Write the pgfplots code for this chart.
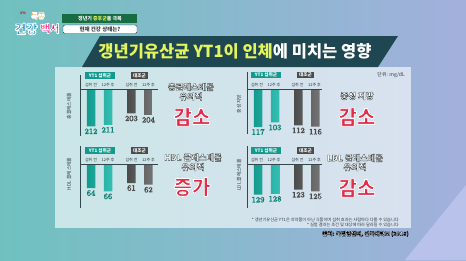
\documentclass[border=0pt]{standalone}
\usepackage{pgfplots}
\pgfplotsset{compat=1.18}
\usepackage{fontspec}
\setmainfont{Noto Sans CJK KR}
\definecolor{bgteal}{HTML}{6FC1BF}
\definecolor{bglav}{HTML}{A3B0DC}
\definecolor{bglight}{HTML}{B8C2EA}
\definecolor{banner}{HTML}{1E4752}
\definecolor{ttlyel}{HTML}{E4F45C}
\definecolor{tealA}{HTML}{139A8E}
\definecolor{tealB}{HTML}{35BFB2}
\definecolor{tealL}{HTML}{DFFBFF}
\definecolor{grayA}{HTML}{4C4C4C}
\definecolor{grayB}{HTML}{747474}
\definecolor{redt}{HTML}{E22C48}
\definecolor{axln}{HTML}{34474C}
\definecolor{txtd}{HTML}{333B3E}
% outlined text: #1 fill colour, #2 stroke rgb, #3 stroke width, #4 text
\newcommand\strk[4]{\textcolor{#1}{\special{pdf:literal direct 1 j #3 w #2 RG 2 Tr}#4\special{pdf:literal direct 0 Tr}}}
\newcommand\outl[1]{\strk{white}{0.2 0.23 0.24}{0.32}{#1}}
\newcommand\redt[1]{\strk{redt}{1 1 1}{0.8}{#1}}
\pgfplotsset{
  minibar/.style={width=80pt, height=46pt, scale only axis, hide axis,
    y dir=reverse, xmin=-0.65, xmax=4.06, enlargelimits=false, clip=true,
    anchor=north west,
    every node near coord/.append style={anchor=center, yshift=-5pt,
      font=\fontsize{8.5}{8.5}\selectfont\bfseries}},
  tealbar/.style={ybar, bar width=8.5pt, bar shift=0pt, draw=none,
    left color=tealA, right color=tealB,
    nodes near coords={\strk{tealL}{0.06 0.5 0.47}{0.45}{\pgfmathprintnumber{\pgfplotspointmeta}}}},
  graybar/.style={ybar, bar width=8.5pt, bar shift=0pt, draw=none,
    left color=grayA, right color=grayB,
    nodes near coords={\strk{white}{0.3 0.3 0.3}{0.45}{\pgfmathprintnumber{\pgfplotspointmeta}}}}
}
\newcommand\panelhdr[3]{%
  \fill[tealA] ({#1+5},{-#2+3.2}) rectangle ({#1+35},{-#2-3.2});
  \node[font=\fontsize{4.6}{5}\selectfont\bfseries, text=white] at ({#1+20},{-#2}) {YT1 섭취군};
  \fill[grayA] ({#1+51},{-#2+3.2}) rectangle ({#1+68},{-#2-3.2});
  \node[font=\fontsize{4.6}{5}\selectfont\bfseries, text=white] at ({#1+59.5},{-#2}) {대조군};
  \node[font=\fontsize{4}{5}\selectfont, text=txtd] at ({#1+11},{-#3}) {섭취 전};
  \node[font=\fontsize{4}{5}\selectfont, text=txtd] at ({#1+28},{-#3}) {12주 후};
  \node[font=\fontsize{4}{5}\selectfont, text=txtd] at ({#1+51.5},{-#3}) {섭취 전};
  \node[font=\fontsize{4}{5}\selectfont, text=txtd] at ({#1+68.5},{-#3}) {12주 후};
}
\begin{document}
\begin{tikzpicture}[x=1pt,y=1pt]
\path[use as bounding box] (0,0) rectangle (466,-260);
\shade[left color=bgteal, right color=bglav] (0,0) rectangle (466,-260);
\fill[bglight] (466,-185) -- (466,-260) -- (405,-260) -- cycle;
% panel
\fill[white, opacity=0.62] (55,-67) rectangle (411,-228);
% banner
\fill[banner] (100,-36) -- (398,-36) -- (378,-67) -- (82,-67) -- cycle;
\node[font=\fontsize{16.5}{16.5}\selectfont\bfseries, inner sep=0pt] at (235,-51.5)
  {\textcolor{ttlyel}{갱년기유산균 YT1이 인체}\textcolor{white}{에 미치는 영향}};
% tags
\fill[banner!80!green] (62,-14) rectangle (137,-23);
\node[font=\fontsize{5}{5}\selectfont\bfseries, text=white] at (100,-18.5) {갱년기 \textcolor{ttlyel}{증후군}을 극복};
\draw[fill=white, draw=txtd, line width=0.4pt, rounded corners=1.5pt] (63,-25) rectangle (137,-33.5);
\node[font=\fontsize{5.5}{6}\selectfont\bfseries, text=txtd] at (100,-29.2) {현재 건강 상태는?};
% logo
\node[font=\fontsize{3.5}{4}\selectfont\bfseries, text=red!80!black] at (23,-13) {1\%};
\node[font=\fontsize{7.5}{7.5}\selectfont\bfseries] at (38,-16) {\strk{orange!90!yellow}{1 1 1}{0.6}{특종}};
\node[font=\fontsize{12.5}{12.5}\selectfont\bfseries, anchor=west, inner sep=0pt] at (14.5,-29) {\strk{cyan!70!blue}{1 1 1}{0.9}{건강}};
\node[font=\fontsize{10.5}{10.5}\selectfont\bfseries, anchor=west, inner sep=0pt] at (40,-28.5) {\strk{magenta!70!red}{1 1 1}{0.8}{백서}};

% ---------- top-left
\begin{axis}[minibar, at={(80pt,-89pt)}, ymin=186, ymax=218]
\addplot[tealbar] coordinates {(0,212) (1,211)};
\addplot[graybar] coordinates {(2.38,203) (3.38,204)};
\end{axis}
% ---------- top-right
\begin{axis}[minibar, at={(247pt,-89pt)}, ymin=0, ymax=141.5]
\addplot[tealbar] coordinates {(0,117) (1,103)};
\addplot[graybar] coordinates {(2.38,112) (3.38,116)};
\end{axis}
% ---------- bottom-left
\begin{axis}[minibar, at={(80pt,-164pt)}, ymin=49.6, ymax=77.2]
\addplot[tealbar] coordinates {(0,64) (1,66)};
\addplot[graybar] coordinates {(2.38,61) (3.38,62)};
\end{axis}
% ---------- bottom-right
\begin{axis}[minibar, at={(247pt,-164pt)}, ymin=92, ymax=147.4]
\addplot[tealbar] coordinates {(0,129) (1,128)};
\addplot[graybar] coordinates {(2.38,123) (3.38,125)};
\end{axis}

% axis lines
\begin{scope}[draw=axln, line width=0.7pt]
\draw (80,-75) -- (80,-136); \draw (80,-89) -- (158,-89);
\draw (247,-72) -- (247,-134); \draw (247,-89) -- (322,-89);
\draw (80,-146) -- (80,-208); \draw (80,-164) -- (158,-164);
\draw (247,-146) -- (247,-208); \draw (247,-164) -- (322,-164);
\end{scope}
\panelhdr{80}{75.5}{84.5}
\panelhdr{246}{75}{84.5}
\panelhdr{80}{150.5}{159.5}
\panelhdr{246}{150.5}{159.5}
% y labels
\node[rotate=90, font=\fontsize{4.8}{5}\selectfont, text=txtd] at (69,-106) {총콜레스테롤};
\node[rotate=90, font=\fontsize{4.8}{5}\selectfont, text=txtd] at (239,-104) {중성 지방};
\node[rotate=90, font=\fontsize{4.8}{5}\selectfont, text=txtd] at (69,-174) {HDL 콜레스테롤};
\node[rotate=90, font=\fontsize{4.8}{5}\selectfont, text=txtd] at (239,-175) {LDL 콜레스테롤};
% right texts
\node[font=\fontsize{8.3}{9}\selectfont\bfseries] at (191,-87) {\outl{총콜레스테롤}};
\node[font=\fontsize{8.3}{9}\selectfont\bfseries] at (191,-96.5) {\outl{유의적}};
\node[font=\fontsize{20}{20}\selectfont\bfseries] at (192,-117) {\redt{감소}};
\node[font=\fontsize{8.5}{9}\selectfont\bfseries] at (357,-96) {\outl{중성 지방}};
\node[font=\fontsize{20}{20}\selectfont\bfseries] at (357,-117) {\redt{감소}};
\node[font=\fontsize{8.3}{9}\selectfont\bfseries] at (193,-157.5) {\outl{HDL 콜레스테롤}};
\node[font=\fontsize{8.3}{9}\selectfont\bfseries] at (193,-167) {\outl{유의적}};
\node[font=\fontsize{20}{20}\selectfont\bfseries] at (192,-187) {\redt{증가}};
\node[font=\fontsize{8.3}{9}\selectfont\bfseries] at (355,-158) {\outl{LDL 콜레스테롤}};
\node[font=\fontsize{8.3}{9}\selectfont\bfseries] at (355,-167) {\outl{유의적}};
\node[font=\fontsize{20}{20}\selectfont\bfseries] at (357,-188) {\redt{감소}};
% unit and notes
\node[font=\fontsize{5}{5}\selectfont, text=txtd, anchor=east, inner sep=0pt] at (405,-75) {단위: mg/dL};
\node[font=\fontsize{4.2}{5}\selectfont, text=txtd, anchor=east, inner sep=0pt] at (399,-220) {* 갱년기유산균 YT1은 의약품이 아닌 식품이며 섭취 효과는 사람마다 다를 수 있습니다};
\node[font=\fontsize{4.2}{5}\selectfont, text=txtd, anchor=east, inner sep=0pt] at (399,-224.8) {* 실험 결과는 조건 및 대상에 따라 달라질 수 있습니다};
\node[font=\fontsize{5.5}{6}\selectfont\bfseries, anchor=east, inner sep=0pt] at (409,-234) {\strk{white}{0 0 0}{0.3}{출처: 국립암센터, 건국대학교 (2018)}};
\end{tikzpicture}
\end{document}
